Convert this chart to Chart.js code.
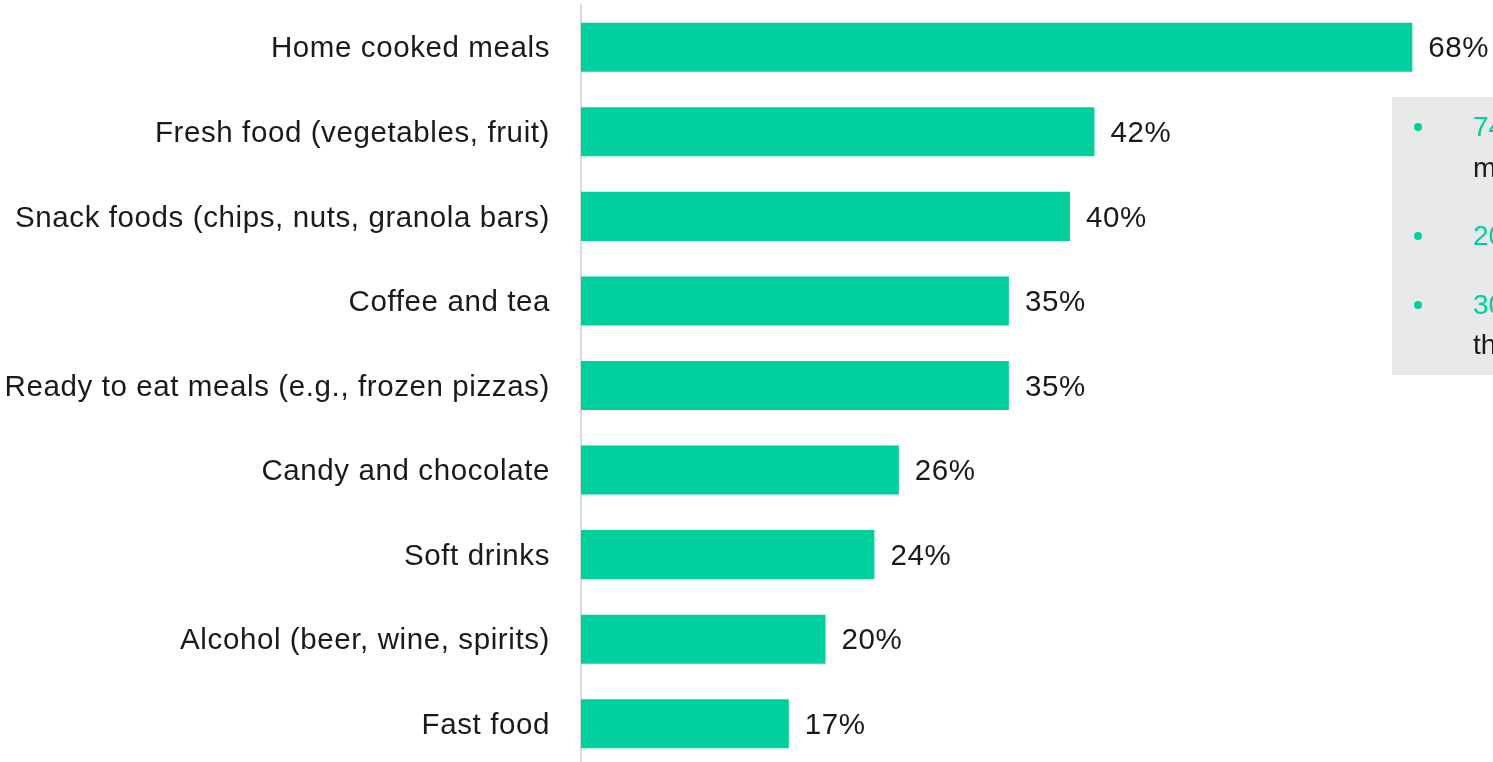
<!DOCTYPE html>
<html>
<head>
<meta charset="utf-8">
<script src="https://cdn.jsdelivr.net/npm/chart.js@4.4.1/dist/chart.umd.min.js"></script>
<style>
  html, body { margin: 0; padding: 0; background: #ffffff; overflow: hidden; }
  #wrap { position: relative; width: 1493px; height: 766px; }
</style>
</head>
<body>
<div id="wrap"><canvas id="chart" width="1493" height="766"></canvas></div>
<script>
// Share of respondents buying more of each item
const categories = [
  'Home cooked meals',
  'Fresh food (vegetables, fruit)',
  'Snack foods (chips, nuts, granola bars)',
  'Coffee and tea',
  'Ready to eat meals (e.g., frozen pizzas)',
  'Candy and chocolate',
  'Soft drinks',
  'Alcohol (beer, wine, spirits)',
  'Fast food'
];
const shares = [68, 42, 40, 35, 35, 26, 24, 20, 17];

// Side panel bullet lines: [highlighted figure, continuation line]
const notes = [
  ['74%', 'm'],
  ['20%', ''],
  ['30%', 'th']
];

const GREEN = '#00D09E';
const TEXT = '#1a1a1a';
const FONT = '"Liberation Sans", Arial, sans-serif';
const LABEL_FONT = '29.5px ' + FONT;

const sidePanel = {
  id: 'sidePanel',
  beforeDatasetsDraw(chart) {
    const ctx = chart.ctx;
    ctx.save();
    ctx.fillStyle = '#E8EAE9';
    ctx.fillRect(1392, 97, 140, 278);
    ctx.font = '28px ' + FONT;
    ctx.textBaseline = 'middle';
    ctx.textAlign = 'left';
    const rows = [[128, 169], [237, null], [306, 346]];
    notes.forEach((n, i) => {
      const [y1, y2] = rows[i];
      ctx.fillStyle = GREEN;
      ctx.beginPath();
      ctx.arc(1418, y1 - 1, 4, 0, Math.PI * 2);
      ctx.fill();
      ctx.fillText(n[0], 1473, y1);
      if (n[1] && y2) {
        ctx.fillStyle = TEXT;
        ctx.fillText(n[1], 1473, y2);
      }
    });
    ctx.restore();
  }
};

// Category names to the left of the axis, right-aligned
const categoryLabels = {
  id: 'categoryLabels',
  afterDraw(chart) {
    const ctx = chart.ctx;
    const y = chart.scales.y;
    ctx.save();
    ctx.font = LABEL_FONT;
    ctx.letterSpacing = '0.6px';
    ctx.fillStyle = TEXT;
    ctx.textBaseline = 'middle';
    ctx.textAlign = 'right';
    categories.forEach((c, i) => {
      ctx.fillText(c, y.right - 31, y.getPixelForTick(i) + 2);
    });
    ctx.restore();
  }
};

const valueLabels = {
  id: 'valueLabels',
  afterDatasetsDraw(chart) {
    const ctx = chart.ctx;
    const meta = chart.getDatasetMeta(0);
    ctx.save();
    ctx.font = LABEL_FONT;
    ctx.letterSpacing = '0.6px';
    ctx.fillStyle = TEXT;
    ctx.textBaseline = 'middle';
    ctx.textAlign = 'left';
    meta.data.forEach((bar, i) => {
      ctx.fillText(shares[i] + '%', bar.x + 16, bar.y + 2);
    });
    ctx.restore();
  }
};

new Chart(document.getElementById('chart'), {
  type: 'bar',
  data: {
    labels: categories,
    datasets: [{
      data: shares,
      backgroundColor: GREEN,
      borderWidth: 0,
      barPercentage: 0.58,
      categoryPercentage: 1
    }]
  },
  plugins: [sidePanel, valueLabels, categoryLabels],
  options: {
    indexAxis: 'y',
    responsive: false,
    animation: false,
    layout: { padding: { top: 5, right: 0, bottom: 0, left: 0 } },
    plugins: { legend: { display: false }, tooltip: { enabled: false } },
    scales: {
      x: { display: false, min: 0, max: 74.6 },
      y: {
        afterFit(scale) {
          scale.width = 581;
          scale.paddingTop = 0;
          scale.paddingBottom = 0;
        },
        grid: { display: false, drawTicks: false },
        border: { display: true, color: '#D9D9D9', width: 2 },
        ticks: { display: false }
      }
    }
  }
});
</script>
</body>
</html>
